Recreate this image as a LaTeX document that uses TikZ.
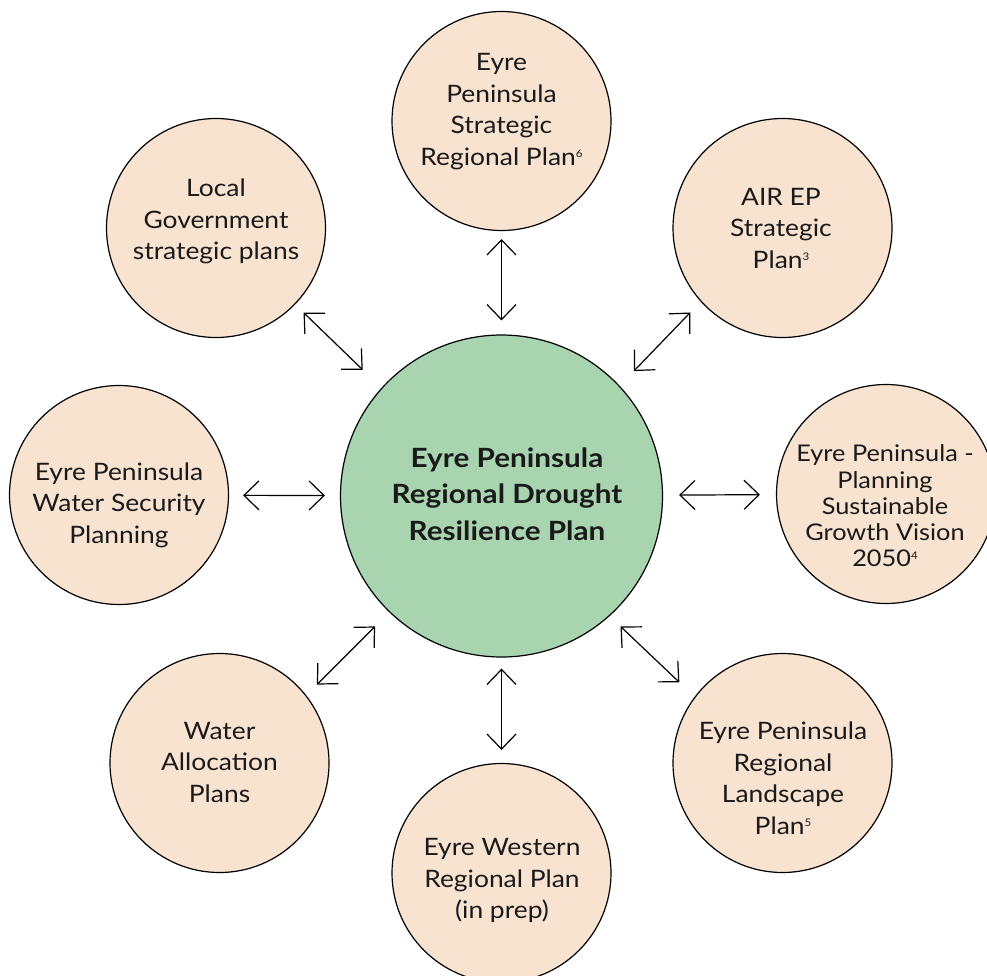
\documentclass[tikz,border=0pt]{standalone}
\usepackage{fontspec}
\setmainfont{Lato}[FakeStretch=1.1,BoldFeatures={FakeStretch=1.12}]
\usetikzlibrary{arrows.meta}
\definecolor{peach}{HTML}{F8E3D1}
\definecolor{mint}{HTML}{A8D5B0}
\definecolor{ink}{HTML}{1A1A1A}
\newcommand{\sref}[1]{\raisebox{0.6ex}{\fontsize{10.5}{10.5}\selectfont #1}}
\begin{document}
\begin{tikzpicture}[x=1pt,y=-1pt,
  sat/.style={circle,draw=black,line width=1.2pt,fill=peach,minimum size=219pt,inner sep=0pt},
  hub/.style={circle,draw=black,line width=1.2pt,fill=mint,minimum size=322pt,inner sep=0pt},
  lbl/.style={align=center,text=ink,font=\fontsize{24}{31.5}\selectfont,inner sep=0pt},
  hublbl/.style={align=center,text=ink,font=\fontsize{26.5}{36.5}\selectfont\bfseries,inner sep=0pt},
  link/.style={line width=1.2pt,{Straight Barb[length=15pt,width=29pt]}-{Straight Barb[length=15pt,width=29pt]}}]
\clip (0,0) rectangle (987,975);
\fill[white] (0,0) rectangle (987,975);
% circles
\node[hub] (c) at (501.5,496) {};
\node[sat] (t)  at (501.5,121) {};
\node[sat] (tl) at (216,228) {};
\node[sat] (tr) at (782.5,228) {};
\node[sat] (l)  at (119,495) {};
\node[sat] (r)  at (886,494) {};
\node[sat] (bl) at (219.5,763) {};
\node[sat] (b)  at (501.5,873) {};
\node[sat] (br) at (782.5,763) {};
% texts
\node[hublbl] (ct) at (507,494) {Eyre Peninsula\\Regional Drought\\Resilience Plan};
\node[lbl] (tt)  at (501.5,111.5) {Eyre\\Peninsula\\Strategic\\Regional Plan\sref{6}};
\node[lbl] (tlt) at (216,221.5) {Local\\Government\\strategic plans};
\node[lbl] (trt) at (781,228) {AIR EP\\Strategic\\Plan\sref{3}};
\node[lbl] (lt)  at (119,505) {Eyre Peninsula\\Water Security\\Planning};
\node[lbl,font=\fontsize{23}{26.3}\selectfont] (rt) at (885,506) {Eyre Peninsula -\\Planning\\Sustainable\\Growth Vision\\2050\sref{4}};
\node[lbl] (blt) at (219.5,762) {Water\\Allocation\\Plans};
\node[lbl] (bt)  at (502,880.5) {Eyre Western\\Regional Plan\\(in prep)};
\node[lbl] (brt) at (783,778) {Eyre Peninsula\\Regional\\Landscape\\Plan\sref{5}};
% connectors
\draw[link,shorten <=8pt,shorten >=14pt] (t) -- (c);
\draw[link,shorten <=11.6pt,shorten >=26pt] (tl.-44) -- (c.138);
\draw[link,shorten <=15pt,shorten >=20.4pt] (tr.-138) -- (c.43.5);
\draw[link,shorten <=14pt,shorten >=15pt] (l) -- (c);
\draw[link,shorten <=16pt,shorten >=16pt] (r) -- (c);
\draw[link,shorten <=15pt,shorten >=20pt] (bl.38) -- (c.-134);
\draw[link,shorten <=13pt,shorten >=11pt] (b) -- (c);
\draw[link,shorten <=21pt,shorten >=15pt] (br.143) -- (c.-48.6);
\end{tikzpicture}
\end{document}
